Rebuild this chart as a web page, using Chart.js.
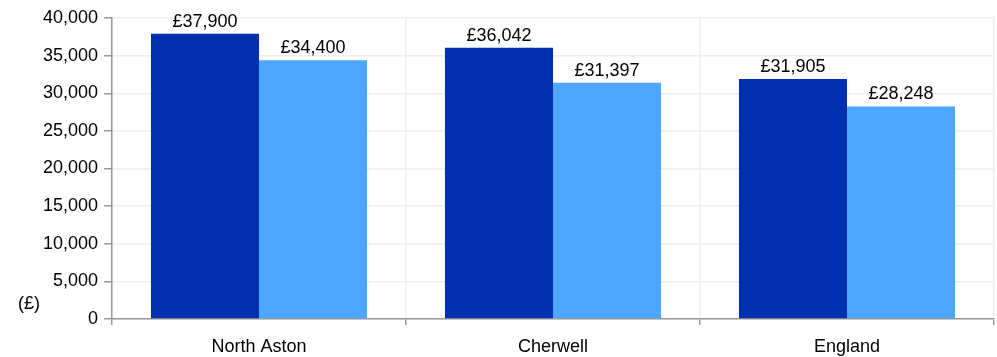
<!DOCTYPE html>
<html>
<head>
<meta charset="utf-8">
<script src="https://cdn.jsdelivr.net/npm/chart.js@4"></script>
<style>
  html, body { margin: 0; padding: 0; background: #fff; }
  #wrap { width: 997px; height: 357px; }
</style>
</head>
<body>
<div id="wrap"><canvas id="incomeChart" width="997" height="357"></canvas></div>
<script>
const areas = ['North Aston', 'Cherwell', 'England'];
const seriesOne = [37900, 36042, 31905];
const seriesTwo = [34400, 31397, 28248];
const yTicks = [0, 5000, 10000, 15000, 20000, 25000, 30000, 35000, 40000];

const FONT = "'Liberation Sans', Arial, sans-serif";

// writes the £ values over each bar
const barLabels = {
  id: 'barLabels',
  afterDatasetsDraw(chart) {
    const ctx = chart.ctx;
    ctx.save();
    ctx.font = '18px ' + FONT;
    ctx.fillStyle = '#000';
    ctx.textAlign = 'center';
    ctx.textBaseline = 'alphabetic';
    chart.data.datasets.forEach((ds, i) => {
      chart.getDatasetMeta(i).data.forEach((bar, j) => {
        ctx.fillText('£' + ds.data[j].toLocaleString('en-GB'), bar.x, bar.y - 7);
      });
    });
    ctx.restore();
  }
};

// the small "(£)" unit label left of the axis
const unitLabel = {
  id: 'unitLabel',
  afterDraw(chart) {
    const ctx = chart.ctx;
    const y = chart.scales.y.getPixelForValue(2000);
    ctx.save();
    ctx.font = '18px ' + FONT;
    ctx.fillStyle = '#000';
    ctx.textAlign = 'left';
    ctx.textBaseline = 'middle';
    ctx.fillText('(£)', 18, y);
    ctx.restore();
  }
};

new Chart(document.getElementById('incomeChart'), {
  type: 'bar',
  data: {
    labels: areas,
    datasets: [
      { data: seriesOne, backgroundColor: '#0030b0', categoryPercentage: 0.735, barPercentage: 1 },
      { data: seriesTwo, backgroundColor: '#4da6ff', categoryPercentage: 0.735, barPercentage: 1 }
    ]
  },
  options: {
    responsive: false,
    animation: false,
    layout: { padding: { left: 38, right: 3, top: 18, bottom: 0 } },
    plugins: { legend: { display: false }, tooltip: { enabled: false } },
    scales: {
      x: {
        afterFit(scale) { scale.height = 38; },
        grid: { color: '#eeeeee', lineWidth: 1.5, tickColor: '#999', tickLength: 6 },
        border: { color: '#999', width: 1.5 },
        ticks: { color: '#000', font: { family: FONT, size: 18 }, padding: 11 }
      },
      y: {
        min: 0,
        max: 40000,
        afterFit(scale) { scale.width = 74; },
        afterBuildTicks(scale) { scale.ticks = yTicks.map(v => ({ value: v })); },
        grid: { color: '#eeeeee', lineWidth: 1.5, tickColor: '#999', tickLength: 8 },
        border: { color: '#999', width: 1.5 },
        ticks: {
          color: '#000',
          font: { family: FONT, size: 18 },
          padding: 6,
          callback: v => v.toLocaleString('en-GB')
        }
      }
    }
  },
  plugins: [barLabels, unitLabel]
});
</script>
</body>
</html>
